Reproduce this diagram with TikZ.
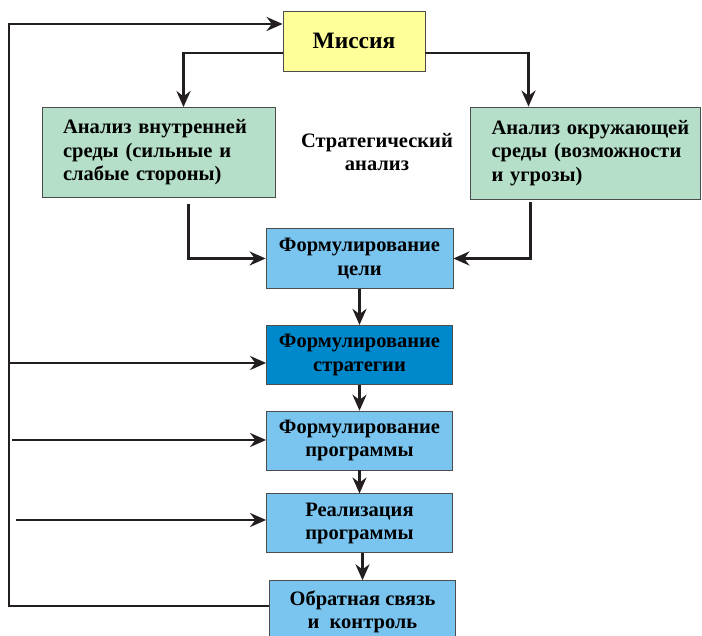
\documentclass[tikz,border=0pt]{standalone}
\usepackage{fontspec}
\setmainfont{Liberation Serif}[BoldFont={Liberation Serif Bold}]
\usepackage{xcolor}
\usepackage{tikz}
\usetikzlibrary{arrows.meta,positioning}

\definecolor{missionyellow}{HTML}{FFFF99}
\definecolor{analysisgreen}{HTML}{B5DFC9}
\definecolor{stepblue}{HTML}{79C5F0}
\definecolor{keyblue}{HTML}{0088CC}
\definecolor{arrowblack}{HTML}{231F20}

\begin{document}
\begin{tikzpicture}[x=1pt, y=1pt,
        box/.style={draw=black!70, line width=0.8pt, inner sep=0pt, align=center,
            font=\bfseries\fontsize{20.5}{23.5}\selectfont},
        stepbox/.style={box, fill=stepblue, minimum width=186pt, minimum height=59pt},
        greenbox/.style={box, fill=analysisgreen, align=left, inner xsep=21pt, minimum height=90pt},
        arr/.style={-{Stealth[length=16pt,width=14pt]}, line width=2.6pt, draw=arrowblack}]
        \clip (0,0) rectangle (702,636);

        \node[box, fill=missionyellow, minimum width=142pt, minimum height=60pt,
            font=\bfseries\fontsize{23.5}{27}\selectfont] (mission) at (354,595) {Миссия};
        \node[greenbox, text width=191pt] (inner) at (158.5,483.5)
            {\mbox{Анализ внутренней}\\\mbox{среды (сильные и}\\\mbox{слабые стороны)}};
        \node[greenbox, text width=188pt, minimum height=92pt] (outer) at (585.5,483)
            {\mbox{Анализ окружающей}\\\mbox{среды (возможности}\\\mbox{и угрозы)}};
        \node[font=\bfseries\fontsize{20.5}{23.5}\selectfont, align=center] (label) at (377,484)
            {Стратегический\\анализ};

        \node[stepbox, minimum width=187pt, minimum height=60pt] (goal) at (359.5,377.5) {Формулирование\\цели};
        \node[stepbox, fill=keyblue, below=36pt of goal] (strat) {Формулирование\\стратегии};
        \node[stepbox, below=26pt of strat] (prog) {Формулирование\\программы};
        \node[stepbox, below=23pt of prog] (real) {Реализация\\программы};
        \node[stepbox, minimum height=62pt, below=27pt of real, xshift=3pt] (fb) {Обратная связь\\и~~контроль};

        \coordinate (loop) at (9,30);
        \coordinate (s0) at (9,273);
        \coordinate (p0) at (12,196);
        \coordinate (r0) at (16,116);

        % mission to the two analyses
        \draw[arr] ([yshift=-12pt]mission.west) -| ([xshift=25pt]inner.north);
        \draw[arr] ([yshift=-12pt]mission.east) -| ([xshift=-57pt]outer.north);

        % analyses to goal
        \draw[arr, shorten <=6pt] ([xshift=30pt]inner.south) |- (goal.west);
        \draw[arr, shorten <=3pt] ([xshift=-55pt]outer.south) |- (goal.east);

        % main chain
        \draw[arr] (goal.south) -- (goal.south |- strat.north);
        \draw[arr] (strat.south -| goal.south) -- (prog.north -| goal.south);
        \draw[arr] (prog.south) -- (real.north);
        \draw[arr] (fb.north |- real.south) -- (fb.north);

        % feedback loop
        \draw[arr] (fb.west |- loop) -- (loop) |- ([yshift=17pt]mission.west);
        \draw[arr] (s0) -- (strat.west |- s0);
        \draw[arr] (p0) -- (prog.west |- p0);
        \draw[arr] (r0) -- (real.west |- r0);
    \end{tikzpicture}
\end{document}
